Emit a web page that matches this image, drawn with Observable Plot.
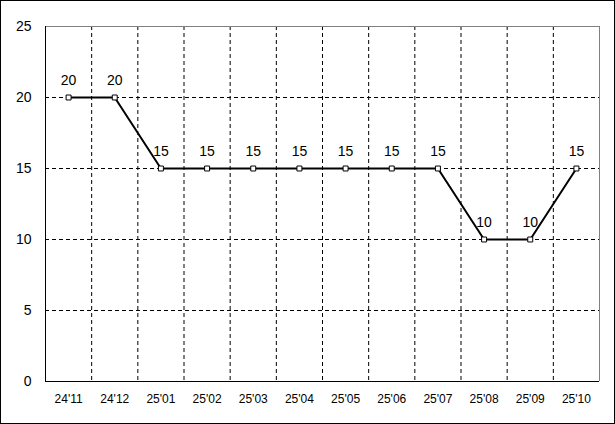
<!DOCTYPE html>
<html><head><meta charset="utf-8">
<script src="https://cdn.jsdelivr.net/npm/d3@7"></script>
<script src="https://cdn.jsdelivr.net/npm/@observablehq/plot@0.6"></script>
<style>
body{margin:0;background:#fff}
#chart svg{display:block;outline:1px solid #000;outline-offset:-1px;background:#fff}
</style>
</head><body><div id="chart"></div>
<script>
const months = ["24'11","24'12","25'01","25'02","25'03","25'04","25'05","25'06","25'07","25'08","25'09","25'10"];
const rates = [20,20,15,15,15,15,15,15,15,10,10,15];
const yTicks = [0,5,10,15,20,25];

const data = months.map((m, i) => ({i, m, v: rates[i]}));
const idx = months.map((_, i) => i);
const bounds = months.slice(1).map((_, i) => i + 0.5);
const gridY = yTicks.slice(1, -1);
const font = "'Liberation Sans', Arial, sans-serif";

const chart = Plot.plot({
  width: 615, height: 424,
  marginLeft: 45, marginTop: 26, marginRight: 16, marginBottom: 43,
  x: {domain: [-0.5, months.length - 0.5]},
  y: {domain: [0, 25]},
  style: {fontFamily: font, fontSize: "13px", color: "#000", background: "#fff"},
  marks: [
    Plot.ruleY(gridY, {stroke: "#000", strokeDasharray: "4,3", strokeWidth: 1}),
    Plot.ruleX(bounds, {stroke: "#000", strokeDasharray: "4,3", strokeWidth: 1}),
    Plot.ruleY([25], {stroke: "#808080"}),
    Plot.ruleX([months.length - 0.5], {stroke: "#808080"}),
    Plot.ruleY([0], {stroke: "#000"}),
    Plot.ruleX([-0.5], {stroke: "#000"}),
    Plot.axisX({ticks: idx, tickFormat: i => months[i], tickSize: 0, tickPadding: 13, fontSize: 12, label: null}),
    Plot.axisY({ticks: yTicks, tickSize: 0, tickPadding: 14, fontSize: 14, label: null}),
    Plot.line(data, {x: "i", y: "v", stroke: "#000", strokeWidth: 2}),
    Plot.dot(data, {x: "i", y: "v", symbol: "square", r: 2.8, stroke: "#000", fill: "#fff", strokeWidth: 1}),
    Plot.text(data, {x: "i", y: "v", text: d => String(d.v), dy: -17, fontSize: 14, fill: "#000"})
  ]
});
document.getElementById("chart").append(chart);
</script>
</body></html>
